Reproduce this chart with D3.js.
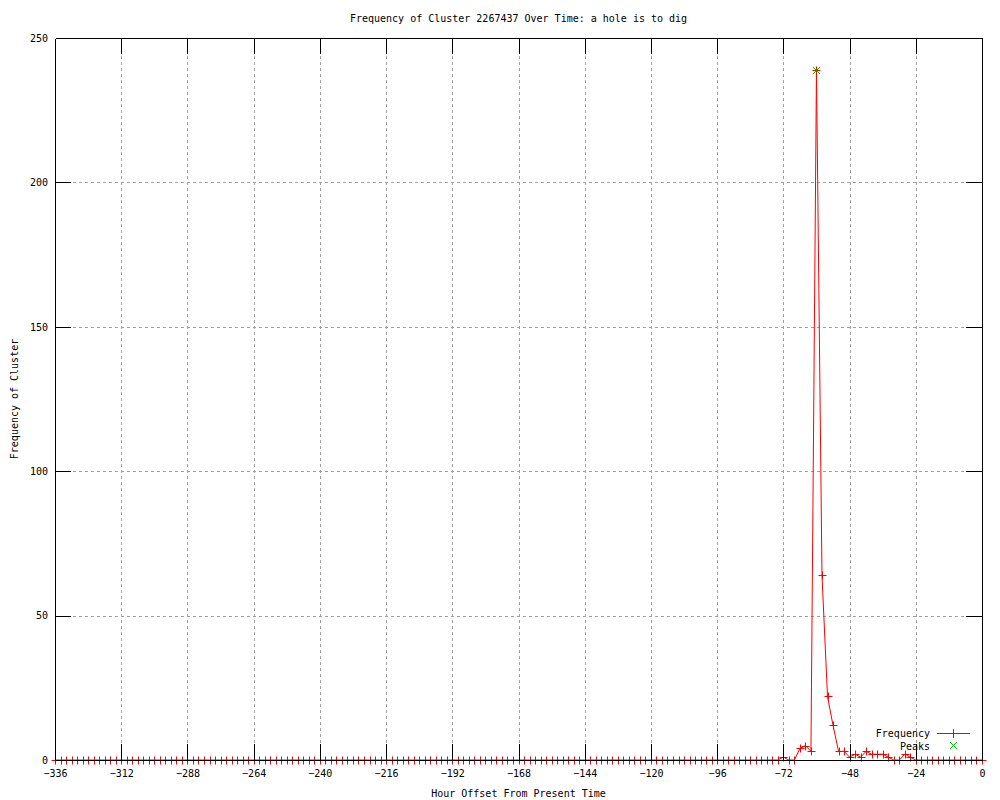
<!DOCTYPE html>
<html>
<head>
<meta charset="utf-8">
<script src="https://cdn.jsdelivr.net/npm/d3@7"></script>
<style>
  body { margin: 0; background: #fff; }
  text { font-family: "DejaVu Sans Mono", "Liberation Mono", monospace; font-size: 10px; fill: #000; }
</style>
</head>
<body>
<div id="chart"></div>
<script>
// hours before now, one sample every 2 hours
var hours = [
  -336,-334,-332,-330,-328,-326,-324,-322,-320,-318,-316,-314,
  -312,-310,-308,-306,-304,-302,-300,-298,-296,-294,-292,-290,
  -288,-286,-284,-282,-280,-278,-276,-274,-272,-270,-268,-266,
  -264,-262,-260,-258,-256,-254,-252,-250,-248,-246,-244,-242,
  -240,-238,-236,-234,-232,-230,-228,-226,-224,-222,-220,-218,
  -216,-214,-212,-210,-208,-206,-204,-202,-200,-198,-196,-194,
  -192,-190,-188,-186,-184,-182,-180,-178,-176,-174,-172,-170,
  -168,-166,-164,-162,-160,-158,-156,-154,-152,-150,-148,-146,
  -144,-142,-140,-138,-136,-134,-132,-130,-128,-126,-124,-122,
  -120,-118,-116,-114,-112,-110,-108,-106,-104,-102,-100,-98,
  -96,-94,-92,-90,-88,-86,-84,-82,-80,-78,-76,-74,
  -72,-70,-68,-66,-64,-62,-60,-58,-56,-54,-52,-50,
  -48,-46,-44,-42,-40,-38,-36,-34,-32,-30,-28,-26,
  -24,-22,-20,-18,-16,-14,-12,-10,-8,-6,-4,-2,
  0
];
var frequency = [
  0,0,0,0,0,0,0,0,0,0,0,0,
  0,0,0,0,0,0,0,0,0,0,0,0,
  0,0,0,0,0,0,0,0,0,0,0,0,
  0,0,0,0,0,0,0,0,0,0,0,0,
  0,0,0,0,0,0,0,0,0,0,0,0,
  0,0,0,0,0,0,0,0,0,0,0,0,
  0,0,0,0,0,0,0,0,0,0,0,0,
  0,0,0,0,0,0,0,0,0,0,0,0,
  0,0,0,0,0,0,0,0,0,0,0,0,
  0,0,0,0,0,0,0,0,0,0,0,0,
  0,0,0,0,0,0,0,0,0,0,0,0,
  1,0,0,4,5,3,239,64,22,12,3,3,
  1,2,1,3,2,2,2,1,0,0,2,1,
  0,0,0,0,0,0,0,0,0,0,0,0,
  0
];
var peakHours = [-60];
var peakValues = [239];

var xTicks = [-336,-312,-288,-264,-240,-216,-192,-168,-144,-120,-96,-72,-48,-24,0];
var yTicks = [0,50,100,150,200,250];

var title = 'Frequency of Cluster 2267437 Over Time: a hole is to dig';

window.onload = function () {
	var width = 1000, height = 800;
	var left = 55, right = 982, top = 38, bottom = 760;
	var tick = 16, cross = 4;

	var svg = d3.select('#chart').append('svg')
		.attr('width', width)
		.attr('height', height);

	var x = d3.scaleLinear().domain([-336, 0]).range([left, right]);
	var y = d3.scaleLinear().domain([0, 250]).range([bottom, top]);
	var px = function (v) { return Math.round(v) + 0.5; };

	// dotted grid
	var grid = svg.append('g');
	xTicks.slice(1, -1).forEach(function (t) {
		grid.append('line')
			.attr('x1', px(x(t))).attr('x2', px(x(t)))
			.attr('y1', top).attr('y2', bottom)
			.attr('stroke', '#a0a0a0')
			.attr('stroke-dasharray', '3,3');
	});
	yTicks.slice(1, -1).forEach(function (t) {
		grid.append('line')
			.attr('x1', left).attr('x2', right)
			.attr('y1', px(y(t))).attr('y2', px(y(t)))
			.attr('stroke', '#a0a0a0')
			.attr('stroke-dasharray', '3,3');
	});

	// frequency line and crosses
	var pts = hours.map(function (h, i) { return [h, frequency[i]]; });
	var line = d3.line()
		.x(function (d) { return x(d[0]); })
		.y(function (d) { return y(d[1]); });

	var data = svg.append('g');
	data.append('path')
		.attr('d', line(pts))
		.attr('fill', 'none')
		.attr('stroke', '#ff0000')
		.attr('stroke-width', 1);

	function plus(g, cx, cy, color) {
		g.append('path')
			.attr('d', 'M' + (cx - cross) + ',' + cy + 'H' + (cx + cross) +
				'M' + cx + ',' + (cy - cross) + 'V' + (cy + cross))
			.attr('fill', 'none')
			.attr('stroke', color);
	}
	function ex(g, cx, cy, color) {
		var s = cross - 0.5;
		g.append('path')
			.attr('d', 'M' + (cx - s) + ',' + (cy - s) + 'L' + (cx + s) + ',' + (cy + s) +
				'M' + (cx - s) + ',' + (cy + s) + 'L' + (cx + s) + ',' + (cy - s))
			.attr('fill', 'none')
			.attr('stroke', color);
	}

	pts.forEach(function (d) {
		plus(data, px(x(d[0])), px(y(d[1])), '#ff0000');
	});
	peakHours.forEach(function (h, i) {
		ex(data, px(x(h)), px(y(peakValues[i])), '#00c000');
	});

	// axes, ticks drawn inward like gnuplot
	var fmt = d3.format('d');
	var gx = svg.append('g')
		.attr('transform', 'translate(0,' + bottom + ')')
		.call(d3.axisBottom(x).tickValues(xTicks).tickFormat(fmt).tickSizeInner(-tick).tickSizeOuter(0).tickPadding(10));
	var gxt = svg.append('g')
		.attr('transform', 'translate(0,' + top + ')')
		.call(d3.axisTop(x).tickValues(xTicks).tickFormat('').tickSizeInner(-tick).tickSizeOuter(0));
	var gy = svg.append('g')
		.attr('transform', 'translate(' + left + ',0)')
		.call(d3.axisLeft(y).tickValues(yTicks).tickFormat(fmt).tickSizeInner(-tick).tickSizeOuter(0).tickPadding(7));
	var gyr = svg.append('g')
		.attr('transform', 'translate(' + right + ',0)')
		.call(d3.axisRight(y).tickValues(yTicks).tickFormat('').tickSizeInner(-tick).tickSizeOuter(0));

	[gx, gxt, gy, gyr].forEach(function (g) {
		g.attr('font-family', null).attr('font-size', null)
			.attr('shape-rendering', 'crispEdges');
		g.selectAll('path, line').attr('stroke', '#000');
		g.selectAll('text').attr('fill', '#000');
	});
	gx.selectAll('.tick').filter(function (d) { return d === -336 || d === 0; }).select('line').remove();
	gxt.selectAll('.tick').filter(function (d) { return d === -336 || d === 0; }).select('line').remove();
	gy.selectAll('.tick').filter(function (d) { return d === 0 || d === 250; }).select('line').remove();
	gyr.selectAll('.tick').filter(function (d) { return d === 0 || d === 250; }).select('line').remove();

	// titles
	svg.append('text')
		.attr('x', (left + right) / 2).attr('y', 18)
		.attr('dy', '0.35em')
		.attr('text-anchor', 'middle')
		.text(title);
	svg.append('text')
		.attr('x', (left + right) / 2).attr('y', 793)
		.attr('dy', '0.35em')
		.attr('text-anchor', 'middle')
		.text('Hour Offset From Present Time');
	svg.append('text')
		.attr('transform', 'translate(14,' + (top + bottom) / 2 + ') rotate(-90)')
		.attr('dy', '0.35em')
		.attr('text-anchor', 'middle')
		.text('Frequency of Cluster');

	// legend
	var legend = svg.append('g');
	legend.append('text')
		.attr('x', 930).attr('y', 733)
		.attr('dy', '0.35em')
		.attr('text-anchor', 'end')
		.text('Frequency');
	legend.append('rect')
		.attr('x', 937).attr('y', 733)
		.attr('width', 33).attr('height', 1)
		.attr('fill', '#ff0000');
	legend.append('rect')
		.attr('x', 953).attr('y', 729)
		.attr('width', 1).attr('height', 9)
		.attr('fill', '#ff0000');
	legend.append('text')
		.attr('x', 930).attr('y', 746)
		.attr('dy', '0.35em')
		.attr('text-anchor', 'end')
		.text('Peaks');
	ex(legend, 953.5, 745.5, '#00c000');
};
</script>
</body>
</html>
